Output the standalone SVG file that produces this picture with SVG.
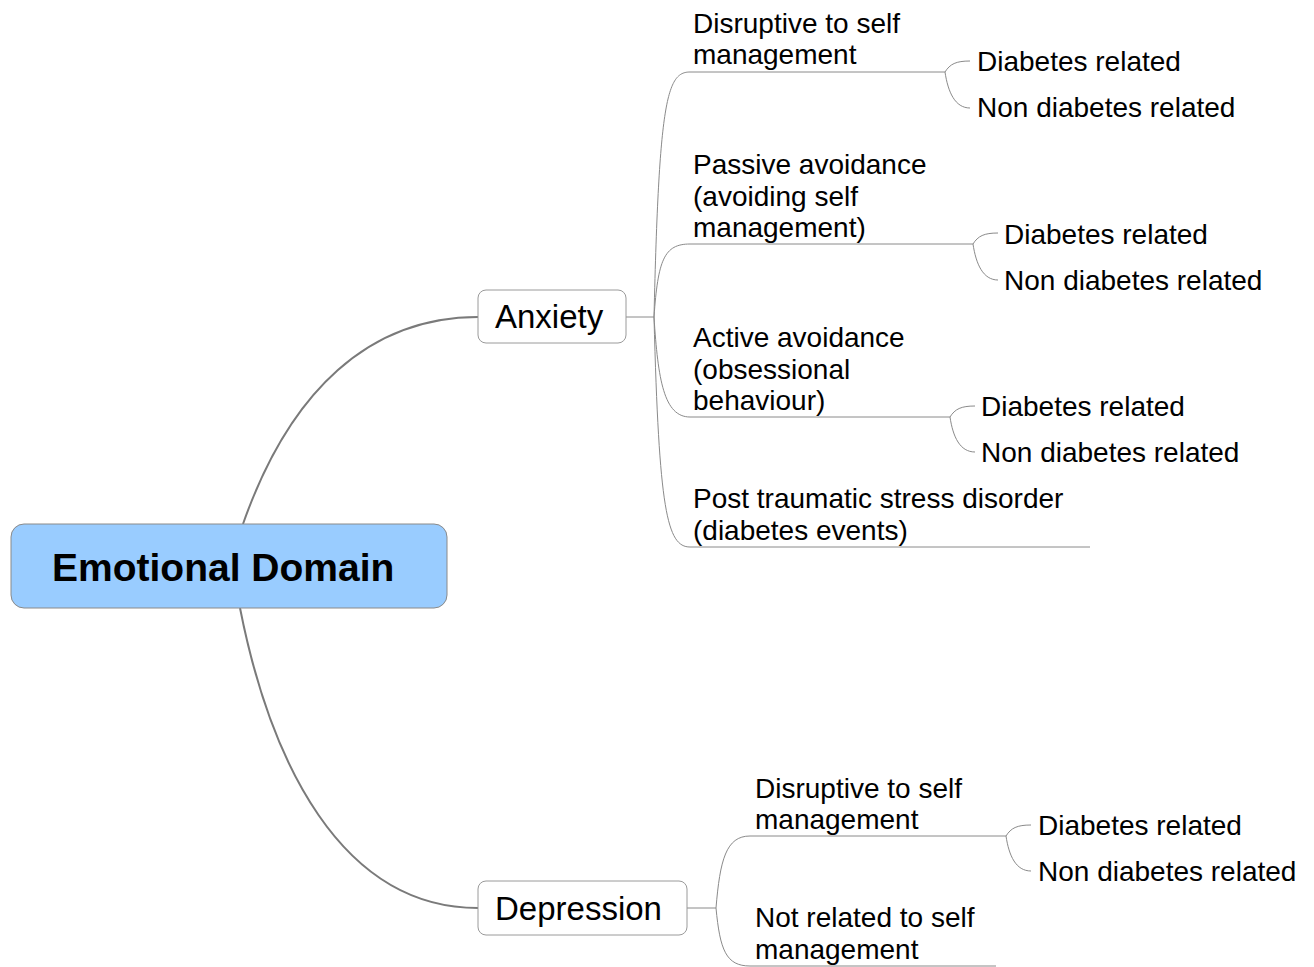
<svg xmlns="http://www.w3.org/2000/svg" width="1314" height="967" viewBox="0 0 1314 967">
  <style>
    .t { font-family: "Liberation Sans", Arial, sans-serif; font-size: 28px; fill: #000; }
    .mid { font-family: "Liberation Sans", Arial, sans-serif; font-size: 33px; fill: #000; }
    .root { font-family: "Liberation Sans", Arial, sans-serif; font-size: 39px; font-weight: bold; fill: #000; }
    .main { fill: none; stroke: #7a7a7a; stroke-width: 2; }
    .thin { fill: none; stroke: #8a8a8a; stroke-width: 1; }
    .box { fill: #fff; stroke: #9a9a9a; stroke-width: 1; }
  </style>
  <rect width="1314" height="967" fill="#fff"/>

  <g id="connectors">
    <!-- root to main topics -->
    <path class="main" d="M243,524 C290,390 370,317 478,317"/>
    <path class="main" d="M240,608 C270,760 340,908 478,908"/>

    <!-- Anxiety to its subtopics -->
    <path class="thin" d="M626,317 L654,317"/>
    <path class="thin" d="M654,317 C659,100 667,72 690,72 L945,72"/>
    <path class="thin" d="M654,317 C658,260 664,244 690,244 L973,244"/>
    <path class="thin" d="M654,317 C658,380 664,417 690,417 L950,417"/>
    <path class="thin" d="M654,317 C659,510 667,547 690,547 L1090,547"/>

    <!-- diabetes splits under Anxiety -->
    <path class="thin" d="M945,72 C950,64 956,61 970,61"/>
    <path class="thin" d="M945,72 C948,92 955,108 970,108"/>
    <path class="thin" d="M973,244 C978,236 984,233 998,233"/>
    <path class="thin" d="M973,244 C976,264 983,280 998,280"/>
    <path class="thin" d="M950,417 C955,409 961,406 975,406"/>
    <path class="thin" d="M950,417 C953,437 960,452 975,452"/>

    <!-- Depression to its subtopics -->
    <path class="thin" d="M687,908 L716,908"/>
    <path class="thin" d="M716,908 C720,860 726,836 750,836 L1006,836"/>
    <path class="thin" d="M716,908 C720,950 726,966 750,966 L996,966"/>
    <path class="thin" d="M1006,836 C1011,828 1017,825 1031,825"/>
    <path class="thin" d="M1006,836 C1009,856 1016,871 1031,871"/>
  </g>

  <g id="root">
    <rect x="11" y="524" width="436" height="84" rx="13" fill="#99ccff" stroke="#8a8a8a" stroke-width="1"/>
    <text class="root" x="52" y="581">Emotional Domain</text>
  </g>

  <g id="anxiety">
    <rect class="box" x="478" y="290" width="148" height="53" rx="8"/>
    <text class="mid" x="495" y="328">Anxiety</text>
  </g>

  <g id="depression">
    <rect class="box" x="478" y="881" width="209" height="54" rx="8"/>
    <text class="mid" x="495" y="920">Depression</text>
  </g>

  <g id="anx-disruptive">
    <text class="t" x="693" y="33">Disruptive to self</text>
    <text class="t" x="693" y="64">management</text>
  </g>
  <g id="anx-disruptive-dr"><text class="t" x="977" y="71">Diabetes related</text></g>
  <g id="anx-disruptive-ndr"><text class="t" x="977" y="117">Non diabetes related</text></g>

  <g id="anx-passive">
    <text class="t" x="693" y="174">Passive avoidance</text>
    <text class="t" x="693" y="206">(avoiding self</text>
    <text class="t" x="693" y="237">management)</text>
  </g>
  <g id="anx-passive-dr"><text class="t" x="1004" y="244">Diabetes related</text></g>
  <g id="anx-passive-ndr"><text class="t" x="1004" y="290">Non diabetes related</text></g>

  <g id="anx-active">
    <text class="t" x="693" y="347">Active avoidance</text>
    <text class="t" x="693" y="379">(obsessional</text>
    <text class="t" x="693" y="410">behaviour)</text>
  </g>
  <g id="anx-active-dr"><text class="t" x="981" y="416">Diabetes related</text></g>
  <g id="anx-active-ndr"><text class="t" x="981" y="462">Non diabetes related</text></g>

  <g id="anx-ptsd">
    <text class="t" x="693" y="508">Post traumatic stress disorder</text>
    <text class="t" x="693" y="540">(diabetes events)</text>
  </g>

  <g id="dep-disruptive">
    <text class="t" x="755" y="798">Disruptive to self</text>
    <text class="t" x="755" y="829">management</text>
  </g>
  <g id="dep-disruptive-dr"><text class="t" x="1038" y="835">Diabetes related</text></g>
  <g id="dep-disruptive-ndr"><text class="t" x="1038" y="881">Non diabetes related</text></g>

  <g id="dep-notrelated">
    <text class="t" x="755" y="927">Not related to self</text>
    <text class="t" x="755" y="959">management</text>
  </g>
</svg>
